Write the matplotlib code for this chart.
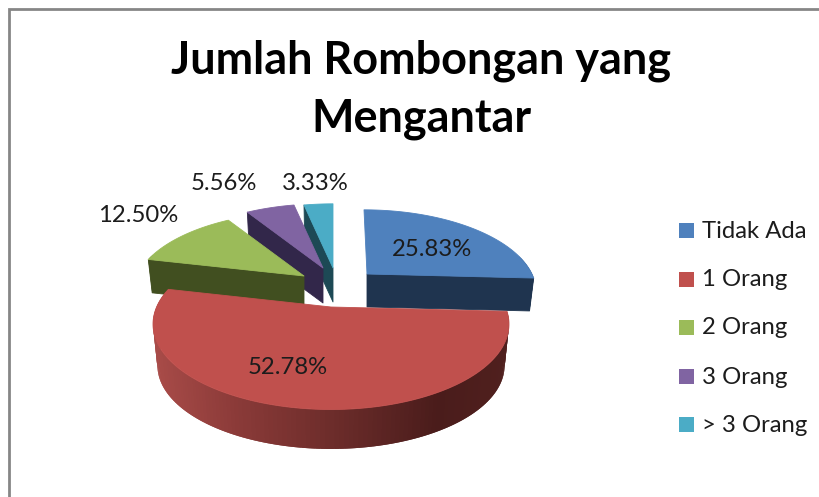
import numpy as np
import matplotlib
matplotlib.use("Agg")
import matplotlib.pyplot as plt
from matplotlib.patches import Polygon, Rectangle
from matplotlib.colors import to_rgb

# ---- data ----
title_lines = ["Jumlah Rombongan yang", "Mengantar"]
categories = ["Tidak Ada", "1 Orang", "2 Orang", "3 Orang", "> 3 Orang"]
values = [25.83, 52.78, 12.50, 5.56, 3.33]

# ---- style / layout ----
top_colors = ["#4F81BD", "#C0504D", "#9BBB59", "#8064A2", "#4BACC6"]
wall_colors = ["#1F344F", "#4F1F1E", "#414F20", "#32274A", "#1D4955"]
apex = [(367, 274), (331, 307), (304, 276), (323, 268), (333, 268)]
radius = [(165, 77), (174.4, 82), (167, 77), (167, 77), (167, 77)]
shear = [-3, 0, 0, 0, 0]
depth = [33, 42, 33, 35, 34]
label_pos = [(432, 250), (288, 367), (138, 216), (224, 184), (315, 183)]
legend_y = [231, 280, 328, 377, 425]
FONT = "Lato"
TEXT = "#1C1C1C"
P, K = 0.2, 0.975
red_stops = [(156, "#A84B48"), (240, "#8A3A38"), (340, "#6B2C2A"),
             (440, "#4A1C1B"), (510, "#50201E")]

fig = plt.figure(figsize=(8.2, 4.97), dpi=100)
ax = fig.add_axes([0, 0, 1, 1])
ax.set_xlim(0, 820)
ax.set_ylim(497, 0)
ax.axis("off")


def project(theta, i, bottom=False):
    X, Y = np.sin(theta), np.cos(theta)
    a, b = radius[i]
    den = 1 + P * Y
    px, py = (a * X + shear[i] * 1.2 * Y) / den, -b * Y / den
    if bottom:
        px, py = px * K, py * K + depth[i]
    return apex[i][0] + px, apex[i][1] + py


def apex_pt(i, bottom=False):
    return apex[i][0], apex[i][1] + (depth[i] if bottom else 0)


def poly(pts, color, z, lw=0.6):
    ax.add_patch(Polygon(pts, closed=True, facecolor=color, edgecolor=color if lw else "none",
                         linewidth=lw, zorder=z, joinstyle="round"))


def red_shade(x):
    xs = [s[0] for s in red_stops]
    cs = np.array([to_rgb(s[1]) for s in red_stops])
    return tuple(np.interp(x, xs, cs[:, c]) for c in range(3))


edges = np.concatenate([[0], np.cumsum(values)]) / np.sum(values) * 2 * np.pi
for i in [4, 3, 2, 0, 1]:
    t1, t2 = edges[i], edges[i + 1]
    z = 10 + [4, 3, 2, 0, 1].index(i) * 3
    # cut faces turned to the viewer
    if np.sin(t1) < -1e-6:
        poly([apex_pt(i), project(t1, i), project(t1, i, True), apex_pt(i, True)], wall_colors[i], z)
    if np.sin(t2) > 1e-6:
        poly([apex_pt(i), project(t2, i), project(t2, i, True), apex_pt(i, True)], wall_colors[i], z)
    # outer wall, in overlapping strips painted one over the next
    n = max(int((t2 - t1) * 45), 3)
    th = np.linspace(t1, t2, n)
    for k in range(n - 1):
        a0 = th[k]
        a1 = th[min(k + 2, n - 1)]
        if np.cos(a0) > 0.25:
            continue
        xm = project(a0, i)[0]
        col = red_shade(xm) if i == 1 else wall_colors[i]
        fine = np.linspace(a0, a1, 6)
        fx, fy = project(fine, i)
        bx, by = project(fine[::-1], i, True)
        poly(list(zip(fx, fy)) + list(zip(bx, by)), col, z, lw=0)
    # top face
    th = np.linspace(t1, t2, 200)
    xs, ys = project(th, i)
    poly([apex_pt(i)] + list(zip(xs, ys)), top_colors[i], z + 1)

for v, (x, y) in zip(values, label_pos):
    ax.text(x, y, f"{v:.2f}%", ha="center", va="center", family=FONT,
            fontsize=17.2, color=TEXT, zorder=40)

ax.text(421, 61, title_lines[0], ha="center", va="center", family=FONT,
        fontweight="bold", fontsize=32.4, color="black", zorder=40)
ax.text(421, 119, title_lines[1], ha="center", va="center", family=FONT,
        fontweight="bold", fontsize=32.4, color="black", zorder=40)

for c, col, y in zip(categories, top_colors, legend_y):
    ax.add_patch(Rectangle((679.5, y - 8.5), 15, 15, facecolor=col, edgecolor="none", zorder=40))
    ax.text(702, y, c, ha="left", va="center", family=FONT, fontsize=17.2, color=TEXT, zorder=40)

# outer frame, cut by the crop on the right and bottom
ax.plot([9.5, 9.5, 820], [497, 8.5, 8.5], color="#868686", lw=2.0,
        solid_joinstyle="miter", zorder=50, clip_on=False)

fig.savefig("out.png", dpi=100, facecolor="white")
